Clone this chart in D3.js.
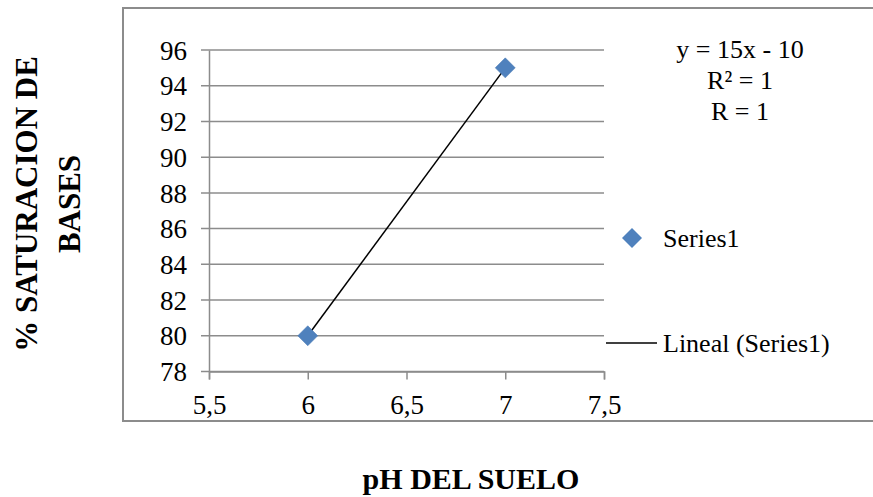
<!DOCTYPE html>
<html><head><meta charset="utf-8">
<script src="https://cdn.jsdelivr.net/npm/d3@7"></script>
<style>body{margin:0;background:#fff}svg{display:block}text{font-family:"Liberation Serif","Times New Roman",serif;fill:#000}</style>
</head><body>
<script>
const xValues = [6, 7];
const yValues = [80, 95];
const xTicks = [5.5, 6, 6.5, 7, 7.5];
const yTicks = [78, 80, 82, 84, 86, 88, 90, 92, 94, 96];
const seriesName = "Series1";
const trendName = "Lineal (Series1)";
const equationLines = ["y = 15x - 10", "R² = 1", "R = 1"];
const xTitle = "pH DEL SUELO";
const yTitleLines = ["% SATURACION DE", "BASES"];
const slope = 15, intercept = -10;

const W = 873, H = 497;
const svg = d3.select("body").append("svg").attr("width", W).attr("height", H);
const serif = '"Liberation Serif","Times New Roman",serif';

// outer chart-area frame
svg.append("rect").attr("x", 123).attr("y", 8).attr("width", 800).attr("height", 413)
  .attr("fill", "none").attr("stroke", "#8c8c8c").attr("stroke-width", 2);

const x = d3.scaleLinear().domain([5.5, 7.5]).range([209, 604]);
const y = d3.scaleLinear().domain([78, 96]).range([371.5, 50]);
const grid = "#8c8c8c";

// gridlines
svg.append("g").selectAll("line").data(yTicks).join("line")
  .attr("x1", 201).attr("x2", x(7.5)).attr("y1", d => y(d)).attr("y2", d => y(d))
  .attr("stroke", grid).attr("stroke-width", 1.5);

// y axis
const yAxis = svg.append("g").attr("transform", `translate(${x(5.5)},0)`)
  .call(d3.axisLeft(y).tickValues(yTicks).tickSize(0).tickPadding(22).tickFormat(d3.format("d")));
yAxis.attr("font-family", null).attr("font-size", null);
yAxis.select(".domain").attr("stroke", grid).attr("stroke-width", 1.5);
yAxis.selectAll("text").style("font-size", "27px").style("font-family", serif).attr("dy", "0.34em");

// x axis
const xAxis = svg.append("g").attr("transform", `translate(0,${y(78)})`)
  .call(d3.axisBottom(x).tickValues(xTicks).tickSize(8).tickPadding(15)
    .tickFormat(d => String(d).replace(".", ",")));
xAxis.attr("font-family", null).attr("font-size", null);
xAxis.select(".domain").attr("stroke", grid).attr("stroke-width", 1.5);
xAxis.selectAll("line").attr("stroke", grid).attr("stroke-width", 1.5);
xAxis.selectAll("text").style("font-size", "27px").style("font-family", serif);

// trendline
const x0 = d3.min(xValues), x1 = d3.max(xValues);
svg.append("line").attr("x1", x(x0)).attr("y1", y(slope * x0 + intercept))
  .attr("x2", x(x1)).attr("y2", y(slope * x1 + intercept))
  .attr("stroke", "#000").attr("stroke-width", 1.5);

// points
const diamond = d3.symbol().type(d3.symbolSquare).size(200);
svg.append("g").selectAll("path").data(xValues.map((v, i) => [v, yValues[i]])).join("path")
  .attr("d", diamond).attr("fill", "#4f81bd").attr("stroke", "#4a7ab5").attr("stroke-width", 0.5)
  .attr("transform", d => `translate(${x(d[0])},${y(d[1])}) rotate(45)`);

// equation
svg.append("g").selectAll("text").data(equationLines).join("text")
  .attr("x", 740).attr("y", (d, i) => 58 + i * 31).attr("text-anchor", "middle")
  .style("font-size", "26px").text(d => d);

// legend
svg.append("path").attr("d", diamond).attr("fill", "#4f81bd")
  .attr("transform", "translate(632,238) rotate(45)");
svg.append("text").attr("x", 663).attr("y", 247).style("font-size", "26px").text(seriesName);
svg.append("line").attr("x1", 606).attr("x2", 657).attr("y1", 343).attr("y2", 343)
  .attr("stroke", "#000").attr("stroke-width", 1.5);
svg.append("text").attr("x", 663).attr("y", 352).style("font-size", "26px").text(trendName);

// axis titles
svg.append("text").attr("x", 471).attr("y", 489).attr("text-anchor", "middle")
  .style("font-size", "30px").attr("font-weight", "bold").text(xTitle);
svg.append("g").attr("transform", "translate(0,204) rotate(-90)")
  .selectAll("text").data(yTitleLines).join("text")
  .attr("x", 0).attr("y", (d, i) => 37 + i * 43).attr("text-anchor", "middle")
  .style("font-size", "31px").attr("font-weight", "bold").text(d => d);
</script>
</body></html>
